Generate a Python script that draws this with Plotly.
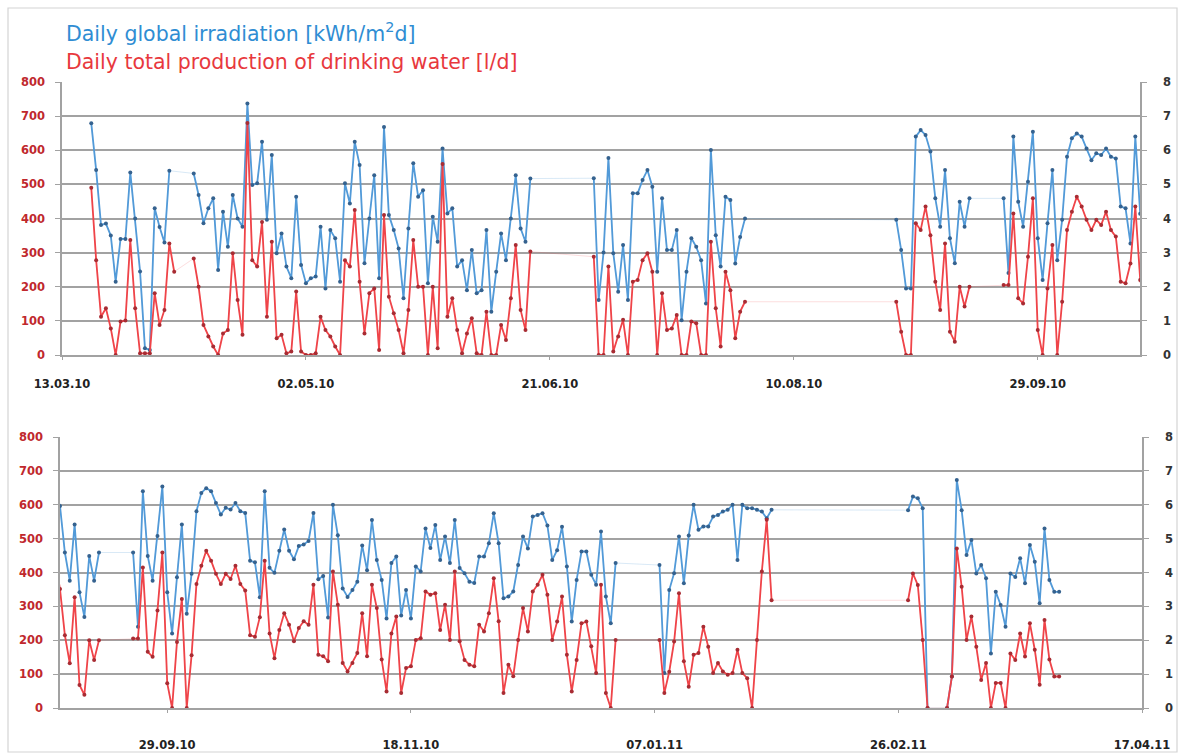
import pandas as pd
import plotly.graph_objects as go

# ---------------- data (daily values, gaps = None) ----------------
seg1_start = "2010-03-19"
seg1_irr = [6.79, 5.42, 3.81, 3.85, 3.50, 2.15, 3.40, 3.40, 5.35, 4.00, 2.45, 0.20, 0.15, 4.30, 3.75, 3.30, 5.40, None]
seg1_water = [490, 278, 112, 137, 78, 0, 98, 101, 337, 137, 5, 5, 5, 181, 88, 132, 327, 244]

seg2_start = "2010-04-09"
seg2_irr = [5.32, 4.69, 3.86, 4.30, 4.59, 2.49, 4.20, 3.17, 4.69, 4.00,
            3.76, 7.37, 4.98, 5.03, 6.25, 3.96, 5.86, 2.98, 3.56, 2.59,
            2.25, 4.64, 2.64, 2.10, 2.25, 2.30, 3.76, 1.95, 3.66, 3.42,
            2.15, 5.03, 4.44, 6.25, 5.57, 2.69, 4.00, 5.27, 2.25, 6.68,
            4.10, 3.66, 3.12, 1.66, 3.71, 5.62, 4.64, 4.83, 2.10, 4.05,
            3.32, 6.05, 4.15, 4.30, 2.59, 2.78, 1.90, 3.08, 1.81, 1.90,
            3.66, 1.27, 2.44, 3.56, 2.78, 4.00, 5.27, 3.71, 3.32, 5.17]
seg2_water = [283, 200, 88, 54, 25, 0, 63, 73, 298, 161,
              59, 680, 278, 259, 390, 112, 332, 49, 59, 5,
              10, 186, 10, 0, 0, 5, 112, 73, 54, 25,
              0, 278, 259, 425, 215, 63, 181, 195, 15, 410,
              171, 122, 73, 5, 132, 337, 200, 200, 0, 200,
              20, 560, 112, 166, 73, 5, 63, 108, 5, 0,
              127, 0, 0, 88, 44, 166, 322, 132, 73, 303]

seg3_start = "2010-06-30"
seg3_irr = [5.18, 1.61, 3.00, 5.77, 2.98, 1.85, 3.22, 1.61, 4.74, 4.74,
            5.13, 5.42, 4.93, 2.44, 4.59, 3.08, 3.08, 3.66, 1.02, 2.44,
            3.42, 3.17, 2.78, 1.51, 6.01, 3.51, 2.59, 4.64, 4.54, 2.68,
            3.46, 4.00]
seg3_water = [288, 0, 0, 259, 10, 54, 103, 0, 215, 220,
              278, 298, 244, 0, 181, 73, 78, 117, 0, 0,
              98, 93, 0, 0, 332, 137, 25, 244, 190, 49,
              127, 156]

seg4_start = "2010-08-31"
seg4_irr = [3.96, 3.08, 1.95, 1.95, 6.40, 6.59, 6.45, 5.96, 4.59, 3.76,
            5.42, 3.42, 2.69, 4.49, 3.76, 4.59]
seg4_water = [156, 68, 0, 0, 386, 366, 435, 351, 215, 132,
              327, 68, 39, 200, 142, 200]

seg5_start = "2010-09-22"
seg5_irr = [4.59, 2.40, 6.40, 4.49, 3.76, 5.08, 6.54, 3.42, 2.20, 3.86,
            5.42, 2.78, 3.96, 5.81, 6.35, 6.49, 6.40, 6.05, 5.71, 5.91,
            5.86, 6.05, 5.81, 5.76, 4.35, 4.30, 3.27, 6.40,
            4.14, 3.99, 4.64, 5.27, 4.64, 4.39, 4.78, 4.83, 4.93, 5.76,
            3.80, 3.90, 2.67, 6.00, 5.10, 3.53, 3.28, 3.48, 3.73, 4.80,
            4.07, 5.55, 4.37, 3.78,
            2.64, 4.28, 4.47, 2.73, 3.48, 2.64, 4.18, 4.03, 5.30, 4.72,
            5.40, 4.37, 5.06, 4.28, 5.55, 4.13, 3.98, 3.73, 3.69, 4.47,
            4.47, 4.86, 5.75, 4.86, 3.24, 3.29, 3.44, 4.22, 5.06, 4.71,
            5.65, 5.70, 5.75, 5.39, 4.37, 4.66, 5.35, 4.18, 2.55, 3.78,
            4.62, 4.62, 3.93, 3.64, 5.21, 3.29, 2.50, 4.28]
seg5_water = [205, 205, 415, 166, 151, 288, 459, 73, 0, 195,
              322, 0, 156, 366, 420, 464, 435, 396, 366, 396,
              381, 420, 366, 347, 215, 210, 268, 435,
              220, 147, 230, 280, 246, 197, 236, 256, 246, 364,
              157, 153, 138, 403, 305, 133, 108, 133, 162, 280,
              153, 364, 295, 143,
              49, 220, 270, 44, 118, 123, 201, 206, 344, 334,
              339, 230, 305, 201, 403, 197, 142, 128, 123, 246,
              226, 280, 383, 256, 44, 128, 94, 201, 295, 226,
              344, 364, 393, 334, 201, 255, 329, 157, 49, 142,
              250, 255, 182, 103, 364, 44, 0, 201]

seg6_start = "2011-01-08"
seg6_irr = [4.22, 1.03, 3.48, 3.98, 5.06, 3.68, 5.09, 6.00, 5.26, 5.36,
            5.36, 5.65, 5.70, 5.80, 5.85, 6.00, 4.37, 6.00, 5.90, 5.90,
            5.85, 5.80, 5.60, 5.85]
seg6_water = [201, 44, 107, 196, 339, 138, 63, 157, 162, 240,
              181, 103, 133, 108, 98, 103, 172, 103, 88, 0,
              201, 403, 556, 318]

seg7_start = "2011-02-28"
seg7_irr = [5.84, 6.24, 6.19, 5.90, 0.0, None, None, None, 0.0, 0.93,
            6.73, 5.84, 4.52, 4.96, 3.97, 4.22, 3.83, 1.61, 3.43, 3.04,
            2.40, 3.97, 3.87, 4.42, 3.68, 4.81, 4.32, 3.09, 5.30, 3.78,
            3.43, 3.43]
seg7_water = [318, 397, 363, 201, 0, None, None, None, 0, 93,
              471, 358, 201, 270, 181, 83, 133, 0, 74, 74,
              0, 161, 142, 220, 152, 250, 172, 69, 260, 143,
              93, 93]

segments = [(seg1_start, seg1_irr, seg1_water), (seg2_start, seg2_irr, seg2_water),
            (seg3_start, seg3_irr, seg3_water), (seg4_start, seg4_irr, seg4_water),
            (seg5_start, seg5_irr, seg5_water), (seg6_start, seg6_irr, seg6_water),
            (seg7_start, seg7_irr, seg7_water)]

axis_start = pd.Timestamp("2010-03-13")
tick_step_days = 50
top_range = ("2010-03-13", "2010-10-19 23:00")
bottom_range = ("2010-09-07", "2011-04-17")

title_irr = "Daily global irradiation [kWh/m<sup>2</sup>d]"
title_water = "Daily total production of drinking water [l/d]"

# ---------------- build daily series ----------------
full_idx = pd.date_range("2010-03-13", "2011-04-17", freq="D")
irr = pd.Series(index=full_idx, dtype=float)
water = pd.Series(index=full_idx, dtype=float)
for start, iv, wv in segments:
    d = pd.date_range(start, periods=len(wv), freq="D")
    irr.loc[d[:len(iv)]] = [float("nan") if v is None else v for v in iv]
    water.loc[d] = [float("nan") if v is None else v for v in wv]

dates = list(full_idx)
irr_vals = [None if pd.isna(v) else v for v in irr.values]
water_vals = [None if pd.isna(v) else v for v in water.values]

W, H = 1182, 756
BLUE_LINE = "#529ad8"
BLUE_MARK = "#35628f"
RED_LINE = "#ef4449"
RED_MARK = "#a82c33"
GRID = "#a2a2a2"
FONT = "DejaVu Sans"

fig = go.Figure()

panels = [("x", "y", "y2"), ("x2", "y3", "y4")]
for xa, ya_right, ya_left in panels:
    fig.add_trace(go.Scatter(x=dates, y=irr_vals, xaxis=xa, yaxis=ya_right, mode="lines",
                             connectgaps=True, line=dict(color="rgba(82,154,216,0.22)", width=1),
                             hoverinfo="skip", showlegend=False))
    fig.add_trace(go.Scatter(x=dates, y=irr_vals, xaxis=xa, yaxis=ya_right, mode="lines+markers",
                             connectgaps=False, line=dict(color=BLUE_LINE, width=1.8),
                             marker=dict(color=BLUE_MARK, size=4), showlegend=False))
    fig.add_trace(go.Scatter(x=dates, y=water_vals, xaxis=xa, yaxis=ya_left, mode="lines",
                             connectgaps=True, line=dict(color="rgba(239,68,73,0.18)", width=1),
                             hoverinfo="skip", showlegend=False))
    fig.add_trace(go.Scatter(x=dates, y=water_vals, xaxis=xa, yaxis=ya_left, mode="lines+markers",
                             connectgaps=False, line=dict(color=RED_LINE, width=1.8),
                             marker=dict(color=RED_MARK, size=4), showlegend=False))

tickvals = [axis_start + pd.Timedelta(days=tick_step_days * k) for k in range(9)]
ticktext = [t.strftime("%d.%m.%y") for t in tickvals]

def xaxis_cfg(domain, rng, anchor, standoff):
    return dict(domain=domain, range=list(rng), anchor=anchor, type="date", automargin=False,
                tickvals=tickvals, ticktext=ticktext, showgrid=False, zeroline=False,
                showline=True, linecolor=GRID, linewidth=1.8, ticks="outside", ticklen=3,
                tickcolor=GRID, ticklabelstandoff=standoff,
                tickfont=dict(family=FONT, size=11.5, color="#222", weight="bold"))

def yright_cfg(domain, anchor):
    return dict(domain=domain, range=[0, 8], dtick=1, anchor=anchor, side="right",
                automargin=False,
                showgrid=True, gridcolor=GRID, gridwidth=1.8, zeroline=False,
                showline=True, linecolor=GRID, linewidth=1.5, ticks="outside", ticklen=5,
                tickcolor=GRID, ticklabelstandoff=14,
                tickfont=dict(family=FONT, size=11.5, color="#333", weight="bold"))

def yleft_cfg(over, anchor):
    return dict(overlaying=over, range=[0, 800], dtick=100, anchor=anchor, side="left",
                automargin=False,
                showgrid=False, zeroline=False, showline=True, linecolor=GRID, linewidth=1.5,
                ticks="outside", ticklen=5, tickcolor=GRID, ticklabelstandoff=8,
                tickfont=dict(family=FONT, size=11.5, color="#c0282d", weight="bold"))

top_dom = [1 - 355 / H, 1 - 82 / H]
bot_dom = [1 - 708 / H, 1 - 437 / H]

fig.update_layout(
    width=W, height=H, margin=dict(l=0, r=0, t=0, b=0, autoexpand=False),
    paper_bgcolor="white", plot_bgcolor="white", showlegend=False,
    xaxis=xaxis_cfg([62 / W, 1140 / W], top_range, "y", 14),
    yaxis=yright_cfg(top_dom, "x"),
    yaxis2=yleft_cfg("y", "x"),
    xaxis2=xaxis_cfg([60 / W, 1142 / W], bottom_range, "y3", 22),
    yaxis3=yright_cfg(bot_dom, "x2"),
    yaxis4=yleft_cfg("y3", "x2"),
    annotations=[
        dict(text=title_irr, x=64 / W, y=1 - 33 / H, xref="paper", yref="paper",
             xanchor="left", yanchor="middle", showarrow=False,
             font=dict(family=FONT, size=20.5, color="#2f8dd3")),
        dict(text=title_water, x=64 / W, y=1 - 62 / H, xref="paper", yref="paper",
             xanchor="left", yanchor="middle", showarrow=False,
             font=dict(family=FONT, size=20.5, color="#e8383d")),
    ],
    shapes=[dict(type="rect", xref="paper", yref="paper", x0=8 / W, x1=1177 / W,
                 y0=1 - 752 / H, y1=1 - 8 / H, line=dict(color="#d4d4d4", width=1.2))],
)

fig.write_html("out.html")
